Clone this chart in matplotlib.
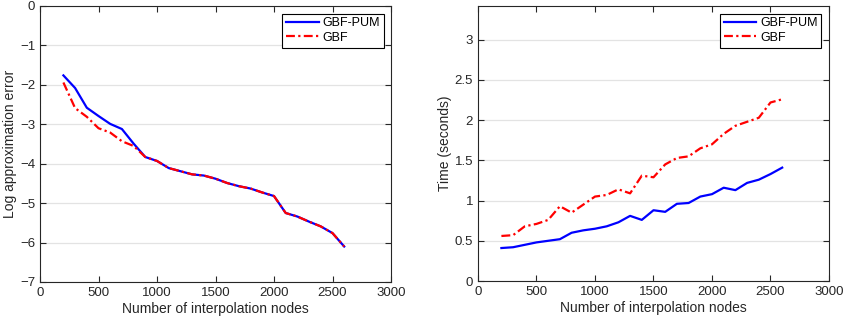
import matplotlib
matplotlib.use("Agg")
import matplotlib.pyplot as plt
import numpy as np

nodes = [200, 300, 400, 500, 600, 700, 800, 900, 1000, 1100, 1200, 1300, 1400,
         1500, 1600, 1700, 1800, 1900, 2000, 2100, 2200, 2300, 2400, 2500, 2600]

err_pum = [-1.76, -2.08, -2.58, -2.79, -2.99, -3.12, -3.49, -3.83, -3.93, -4.11,
           -4.19, -4.27, -4.30, -4.38, -4.49, -4.57, -4.63, -4.73, -4.82, -5.25,
           -5.34, -5.47, -5.59, -5.76, -6.10]
err_gbf = [-1.94, -2.59, -2.81, -3.10, -3.21, -3.43, -3.55, -3.83, -3.93, -4.11,
           -4.19, -4.27, -4.30, -4.38, -4.49, -4.57, -4.63, -4.73, -4.82, -5.25,
           -5.34, -5.47, -5.59, -5.76, -6.10]

time_pum = [0.41, 0.42, 0.45, 0.48, 0.50, 0.52, 0.60, 0.63, 0.65, 0.68, 0.73,
            0.81, 0.76, 0.88, 0.86, 0.96, 0.97, 1.05, 1.08, 1.16, 1.13, 1.22,
            1.26, 1.33, 1.41]
time_gbf = [0.56, 0.57, 0.68, 0.71, 0.76, 0.93, 0.85, 0.95, 1.05, 1.07, 1.14,
            1.09, 1.31, 1.29, 1.45, 1.53, 1.55, 1.65, 1.70, 1.83, 1.93, 1.98,
            2.03, 2.22, 2.26]

labels = ["GBF-PUM", "GBF"]
xlabel = "Number of interpolation nodes"
ylabels = ["Log approximation error", "Time (seconds)"]

plt.rcParams['font.family'] = ['Liberation Sans', 'DejaVu Sans']
plt.rcParams['font.size'] = 9.5
txt = '#262626'

fig = plt.figure(figsize=(8.45, 3.25), dpi=100)
W, H = 845, 325
ax1 = fig.add_axes([40 / W, 1 - 282 / H, (391 - 40) / W, (282 - 6) / H])
ax2 = fig.add_axes([478 / W, 1 - 281 / H, (829 - 478) / W, (281 - 6) / H])

def style(ax, ylim, yticks):
    ax.set_xlim(0, 3000)
    ax.set_ylim(*ylim)
    ax.set_xticks(np.arange(0, 3001, 500))
    ax.set_yticks(yticks)
    ax.grid(axis='y', color='#e3e3e3', linewidth=0.9)
    ax.set_axisbelow(True)
    ax.tick_params(direction='in', top=True, right=True, length=4, width=0.8,
                   colors=txt, labelsize=9.5, labelcolor=txt)
    for s in ax.spines.values():
        s.set_color('#262626')
        s.set_linewidth(0.8)
    ax.set_xlabel(xlabel, color=txt, fontsize=10, labelpad=2)

style(ax1, (-7, 0), np.arange(-7, 1, 1))
ax1.plot(nodes, err_pum, color='#0000ff', lw=1.6, label=labels[0])
ax1.plot(nodes, err_gbf, color='#ff0000', lw=1.6, ls=(0, (4, 1.5, 1, 1.5)), label=labels[1])
ax1.set_ylabel(ylabels[0], color=txt, fontsize=10, labelpad=2)

style(ax2, (0, 3.42), np.arange(0, 3.01, 0.5))
ax2.set_yticklabels(['0', '0.5', '1', '1.5', '2', '2.5', '3'])
ax2.plot(nodes, time_pum, color='#0000ff', lw=1.6, label=labels[0])
ax2.plot(nodes, time_gbf, color='#ff0000', lw=1.6, ls=(0, (4, 1.5, 1, 1.5)), label=labels[1])
ax2.set_ylabel(ylabels[1], color=txt, fontsize=10, labelpad=2)

for ax in (ax1, ax2):
    leg = ax.legend(loc='upper right', fancybox=False, edgecolor='black',
                    framealpha=1, fontsize=9, handlelength=2.6, handletextpad=0.3,
                    borderpad=0.3, labelspacing=0.2, borderaxespad=0.6)
    leg.get_frame().set_linewidth(0.8)

fig.savefig('out.png', dpi=100)
